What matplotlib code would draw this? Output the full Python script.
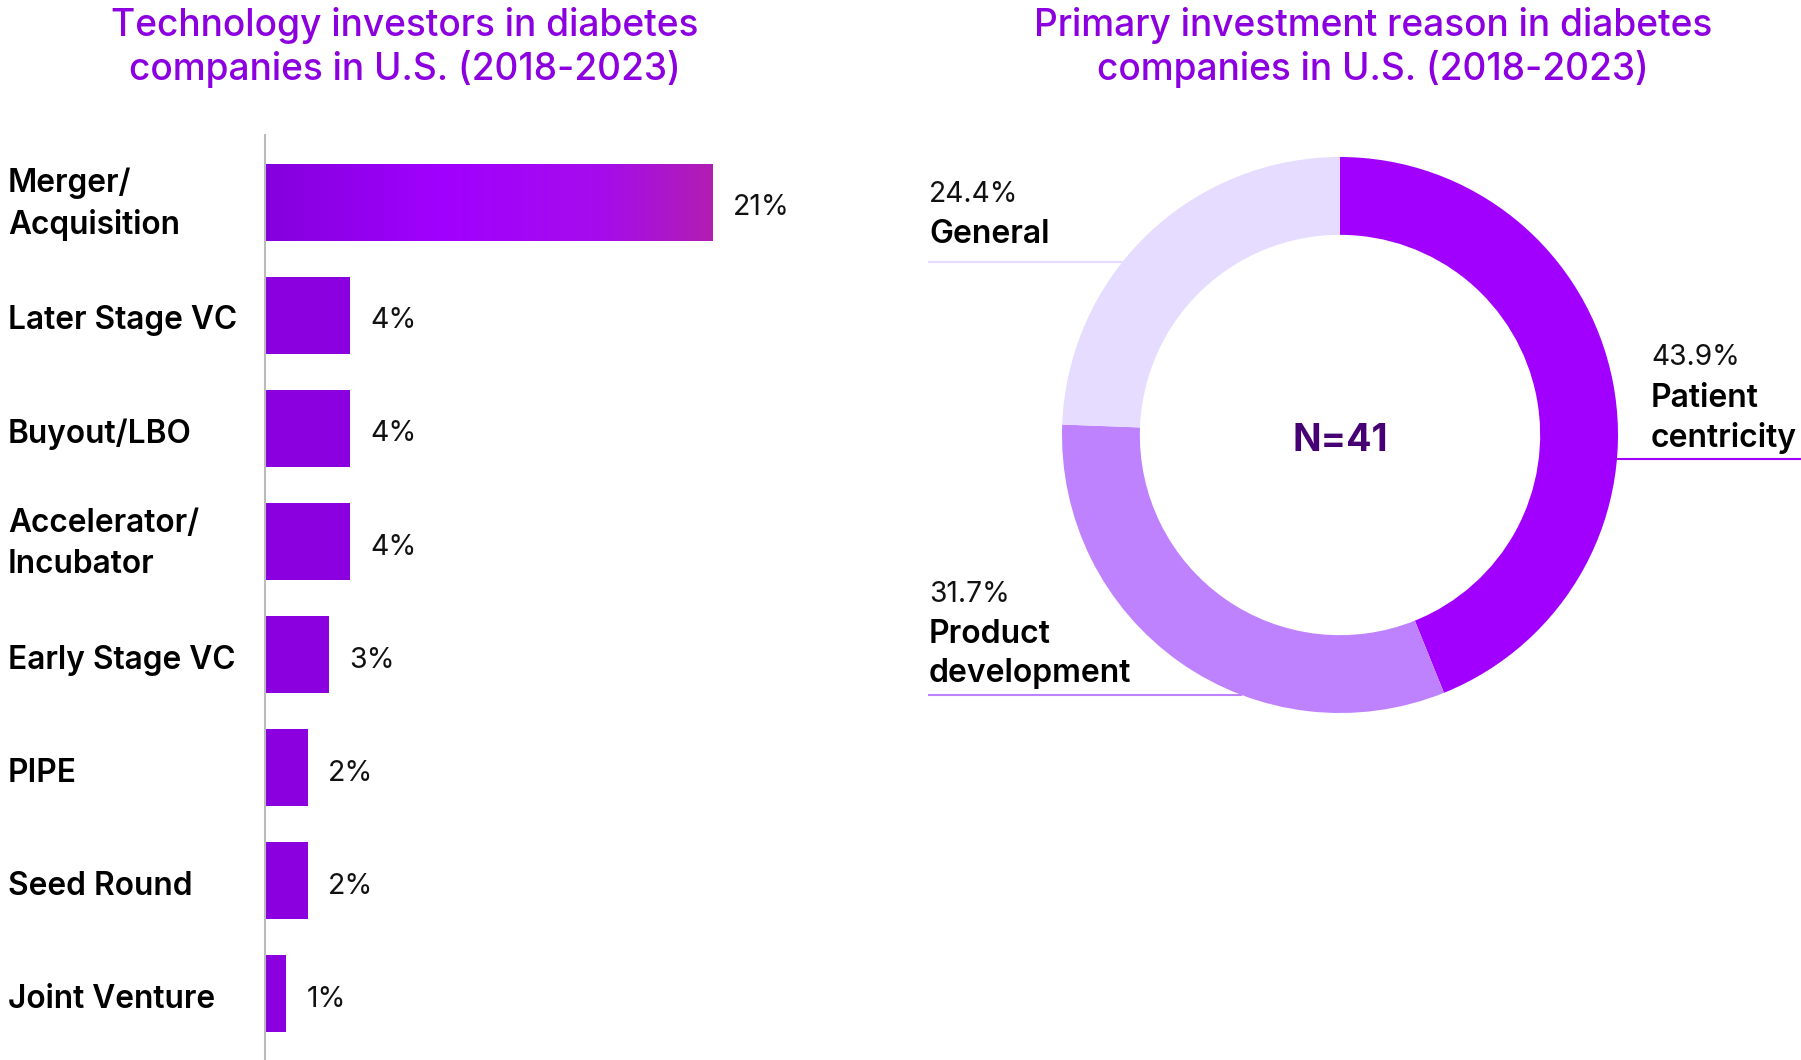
import numpy as np
import matplotlib
matplotlib.use("Agg")
import matplotlib.pyplot as plt
from matplotlib.colors import LinearSegmentedColormap
from matplotlib.transforms import blended_transform_factory

plt.rcParams['font.family'] = ['Inter', 'DejaVu Sans']

# left chart data
investor_types = ['Merger/\nAcquisition', 'Later Stage VC', 'Buyout/LBO', 'Accelerator/\nIncubator',
                  'Early Stage VC', 'PIPE', 'Seed Round', 'Joint Venture']
investor_share = [21, 4, 4, 4, 3, 2, 2, 1]

# right chart data
reasons = ['Patient\ncentricity', 'Product\ndevelopment', 'General']
reason_share = [43.9, 31.7, 24.4]
reason_colors = ['#A100FF', '#BE82FF', '#E6DCFF']
n_total = 41

title_color = '#8C00E0'
bar_color = '#8A00DE'

W, H = 1801, 1060
fig = plt.figure(figsize=(W / 100, H / 100), dpi=100)


def px_box(x0, y0, x1, y1):
    # pixel box (top-left origin) -> figure fraction
    return [x0 / W, 1 - y1 / H, (x1 - x0) / W, (y1 - y0) / H]


# ---- bar chart ----
ax = fig.add_axes(px_box(265, 135, 798, 1060))
y = np.arange(len(investor_share))
bh = 0.68
bars = ax.barh(y, investor_share, height=bh, color=bar_color)

# gradient on the first bar
grad = LinearSegmentedColormap.from_list('g', [(0, '#8400DC'), (0.4, '#A100FF'),
                                               (0.75, '#A50CEC'), (1, '#B11EB2')])
bars[0].set_alpha(0)
ax.imshow(np.linspace(0, 1, 256).reshape(1, -1), cmap=grad, aspect='auto',
          extent=(0, investor_share[0], y[0] + bh / 2, y[0] - bh / 2), zorder=2)
ax.set_xlim(0, 25)
ax.set_ylim(len(y) - 1 + 0.584, -0.593)

for sp in ['top', 'right', 'bottom']:
    ax.spines[sp].set_visible(False)
ax.spines['left'].set_color('#BBBBBB')
ax.spines['left'].set_linewidth(1.5)
ax.set_xticks([])
ax.set_yticks([])

tr = blended_transform_factory(fig.transFigure, ax.transData)
for i, (lab, v) in enumerate(zip(investor_types, investor_share)):
    dy = 0.02 if '\n' in lab else 0.05
    ax.text(8 / W, i + dy, lab, transform=tr, ha='left', va='center', fontsize=22.8,
            fontweight='semibold', color='black', linespacing=1.4)
    ax.text(v + 0.95, i + 0.05, f'{v}%', ha='left', va='center', fontsize=20.5, color='#111111')

fig.text(405 / W, 1 - 47 / H, 'Technology investors in diabetes\ncompanies in U.S. (2018-2023)',
         ha='center', va='center', fontsize=26.7, fontweight='medium', color=title_color,
         linespacing=1.2)

# ---- donut ----
r_px = 278
cx, cy = 1340, 435
x0, x1, y0, y1 = 929, 1801, 120, 760
ax2 = fig.add_axes(px_box(x0, y0, x1, y1))
ax2.pie(reason_share, colors=reason_colors, startangle=90, counterclock=False, radius=1,
        wedgeprops=dict(width=0.28, edgecolor='none'))
ax2.set_aspect('auto')
ax2.set_xlim((x0 - cx) / r_px, (x1 - cx) / r_px)
ax2.set_ylim((cy - y1) / r_px, (cy - y0) / r_px)
ax2.axis('off')

ax2.text(0, -0.02, f'N={n_total}', ha='center', va='center', fontsize=27,
         fontweight='bold', color='#460073')

left_x = (x0 - cx) / r_px
right_x = (x1 - cx) / r_px
# label anchor: (x, y of pct text, y of name text, y of line, side)
lab_pos = [(1.119, 0.278, 0.058, -0.086, 'right'),
           (left_x, -0.575, -0.787, -0.935, 'left'),
           (left_x, 0.864, 0.722, 0.622, 'left')]
for (name, v, c), (lx, py, ny, ly, side) in zip(zip(reasons, reason_share, reason_colors), lab_pos):
    ax2.text(lx, py, f'{v}%', ha='left', va='center', fontsize=20.3, color='#111111')
    ax2.text(lx, ny, name, ha='left', va='center', fontsize=23, fontweight='semibold',
             color='black', linespacing=1.32)
    edge = np.sqrt(1 - ly ** 2)
    if side == 'left':
        ax2.plot([left_x, -edge], [ly, ly], color=c, lw=1.5, clip_on=False)
    else:
        ax2.plot([edge, right_x], [ly, ly], color=c, lw=1.5, clip_on=False)

fig.text(1373 / W, 1 - 47 / H, 'Primary investment reason in diabetes\ncompanies in U.S. (2018-2023)',
         ha='center', va='center', fontsize=26.7, fontweight='medium', color=title_color,
         linespacing=1.2)

fig.savefig('out.png', dpi=100)
